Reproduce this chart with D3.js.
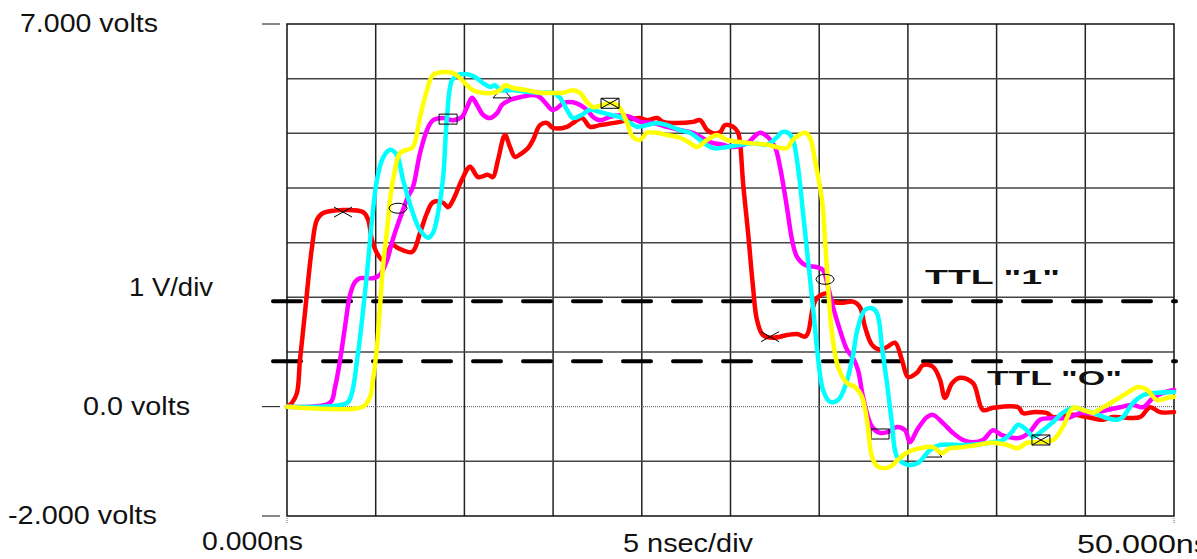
<!DOCTYPE html>
<html>
<head>
<meta charset="utf-8">
<script src="https://cdn.jsdelivr.net/npm/d3@7"></script>
<style>
  body { margin: 0; background: #fff; }
  svg { display: block; }
  text { font-family: "Liberation Sans", Arial, sans-serif; fill: #111; }
</style>
</head>
<body>
<div id="chart"></div>
<script>
// time in ns, value in volts
var redTrace = [[0,0],[0.28,0.07],[0.56,0.25],[0.73,0.85],[1.01,1.71],[1.41,2.92],[1.69,3.42],[2.03,3.54],[4.28,3.56],[4.57,3.42],[4.79,3.05],[5.07,2.81],[5.41,2.68],[5.92,2.96],[6.26,2.9],[7.05,2.83],[7.5,3.18],[7.89,3.54],[8.23,3.74],[8.79,3.73],[9.08,3.65],[9.36,3.78],[9.86,4.15],[10.32,4.39],[10.77,4.2],[11.33,4.24],[11.61,4.2],[11.89,4.51],[12.29,4.97],[12.57,4.75],[12.85,4.57],[13.25,4.64],[13.59,4.73],[13.87,4.88],[14.26,5.15],[14.66,5.19],[14.99,5.1],[15.78,5.12],[16.12,5.19],[16.63,5.28],[17.08,5.12],[17.64,5.15],[18.77,5.21],[19.9,5.28],[20.29,5.24],[20.86,5.28],[21.2,5.21],[21.76,5.19],[22.89,5.21],[23.28,5.24],[23.68,5.06],[24.01,5.0],[24.41,5.02],[24.69,5.15],[25.14,5.12],[25.42,5.02],[25.54,4.82],[25.71,4.09],[25.99,3.18],[26.27,2.19],[26.49,1.59],[26.83,1.31],[27.4,1.26],[28.19,1.31],[28.75,1.33],[29.2,1.28],[29.37,1.35],[29.65,1.82],[29.88,1.99],[30.44,2.07],[30.78,1.92],[31.34,1.9],[31.91,1.92],[32.3,1.82],[32.58,1.46],[32.98,1.13],[33.43,1.04],[33.82,1.09],[34.27,1.17],[34.67,0.85],[35.01,0.54],[35.51,0.62],[35.85,0.76],[36.41,0.73],[36.81,0.49],[37.09,0.16],[37.49,0.43],[37.94,0.53],[38.67,0.43],[39.23,-0.06],[39.8,-0.02],[41.21,-0.01],[41.49,-0.12],[42.05,-0.1],[42.84,-0.12],[43.18,-0.19],[44.31,-0.15],[45.1,-0.19],[46.0,-0.24],[46.56,-0.19],[48.08,-0.19],[48.65,-0.01],[49.21,-0.1],[50,-0.1]];

var magentaTrace = [[0,0],[2.42,0.07],[2.71,0.36],[2.99,0.85],[3.27,1.46],[3.55,2.04],[3.83,2.28],[4.12,2.35],[4.85,2.35],[5.24,2.41],[5.64,2.68],[5.92,3.01],[6.2,3.29],[6.54,3.6],[6.82,3.84],[7.1,4.02],[7.5,4.64],[7.89,5.06],[8.23,5.24],[8.79,5.28],[9.36,5.24],[9.86,5.3],[10.15,5.48],[10.43,5.65],[10.71,5.52],[11.05,5.34],[11.44,5.28],[11.84,5.37],[12.12,5.52],[12.57,5.61],[13.13,5.66],[13.87,5.7],[14.26,5.66],[14.66,5.52],[14.94,5.43],[15.22,5.46],[15.56,5.55],[16.12,5.57],[16.52,5.52],[16.91,5.43],[17.25,5.3],[17.64,5.24],[18.21,5.3],[18.77,5.33],[19.34,5.3],[19.9,5.21],[20.63,5.19],[21.42,5.12],[22.15,5.06],[22.89,5.01],[23.84,4.84],[24.58,4.79],[25.14,4.75],[25.93,4.82],[26.66,5.01],[27.11,4.93],[27.51,4.75],[27.79,4.39],[28.18,3.65],[28.47,3.05],[28.75,2.74],[29.2,2.59],[29.88,2.55],[30.21,2.5],[30.5,2.19],[30.78,1.82],[31.17,1.4],[31.57,1.04],[31.91,0.89],[32.19,0.67],[32.47,0.18],[32.98,-0.37],[33.43,-0.48],[33.88,-0.46],[34.39,-0.37],[34.84,-0.43],[35.12,-0.65],[35.51,-0.43],[36.08,-0.19],[36.41,-0.15],[36.98,-0.3],[37.54,-0.48],[38.11,-0.61],[38.67,-0.65],[39.23,-0.61],[39.8,-0.43],[40.3,-0.52],[41.32,-0.57],[41.88,-0.46],[42.45,-0.24],[43.18,-0.21],[43.97,-0.21],[44.7,-0.12],[45.43,-0.12],[46.22,-0.06],[46.96,-0.01],[47.69,0.03],[48.25,-0.01],[48.82,0.16],[49.38,0.25],[50,0.31]];

var cyanTrace = [[0,0],[3.38,0.07],[3.66,0.25],[3.95,0.85],[4.23,1.58],[4.51,2.44],[4.79,3.41],[5.07,4.15],[5.41,4.55],[5.81,4.7],[6.2,4.6],[6.54,4.15],[7.1,3.54],[7.5,3.23],[7.95,3.09],[8.23,3.18],[8.51,3.54],[8.79,4.15],[9.02,5.3],[9.3,5.97],[9.64,6.07],[10.15,6.08],[10.6,6.03],[11.05,5.92],[11.44,5.85],[11.72,5.88],[12.01,5.79],[12.74,5.79],[13.53,5.76],[14.26,5.74],[14.99,5.74],[15.39,5.65],[15.78,5.43],[16.12,5.28],[16.63,5.34],[17.08,5.43],[17.64,5.39],[18.21,5.34],[18.77,5.3],[19.34,5.19],[19.73,5.12],[20.29,5.15],[20.86,5.19],[21.42,5.15],[22.15,5.06],[22.72,5.01],[23.28,4.88],[24.01,4.73],[24.8,4.75],[25.54,4.79],[26.27,4.82],[27.06,4.79],[27.62,4.93],[27.9,5.02],[28.24,5.01],[28.52,4.88],[28.8,4.39],[29.09,3.54],[29.37,2.68],[29.65,1.82],[29.93,0.91],[30.21,0.31],[30.61,0.09],[31.06,0.12],[31.45,0.36],[31.85,0.85],[32.19,1.46],[32.58,1.77],[32.98,1.8],[33.26,1.71],[33.54,1.09],[33.82,0.43],[34.1,-0.3],[34.39,-0.92],[34.95,-1.06],[35.57,-1.03],[36.25,-0.79],[36.81,-0.7],[38.33,-0.7],[39.8,-0.65],[40.36,-0.61],[40.87,-0.46],[41.21,-0.33],[41.71,-0.43],[42.05,-0.55],[42.62,-0.43],[43.18,-0.28],[43.74,-0.11],[44.31,-0.02],[44.87,-0.06],[45.43,-0.11],[46.22,-0.21],[46.79,-0.24],[47.12,-0.19],[47.69,0.07],[48.25,0.21],[48.82,0.25],[50,0.27]];

var yellowTrace = [[0,0],[4.28,0],[4.68,0.18],[4.85,0.49],[5.07,1.09],[5.24,1.82],[5.41,2.56],[5.64,3.23],[5.81,3.78],[5.98,4.15],[6.37,4.64],[6.77,4.7],[7.1,4.75],[7.5,5.3],[7.89,5.79],[8.23,6.07],[8.79,6.12],[9.36,6.1],[9.75,6.01],[10.15,5.88],[10.49,5.79],[11.05,5.74],[11.61,5.74],[12.01,5.79],[12.29,5.88],[12.74,5.83],[13.53,5.79],[14.26,5.74],[14.99,5.74],[15.56,5.74],[16.12,5.79],[16.52,5.74],[16.91,5.57],[17.25,5.48],[17.81,5.52],[18.38,5.55],[18.77,5.46],[19.17,5.19],[19.5,4.93],[19.9,4.88],[20.29,5.01],[20.86,5.01],[21.42,4.97],[22.15,4.92],[22.72,4.82],[23.11,4.75],[23.68,4.88],[24.24,4.97],[24.8,4.88],[25.54,4.84],[27.06,4.79],[28.18,4.73],[28.52,4.88],[29.2,5.01],[29.48,4.92],[29.76,4.51],[30.16,3.78],[30.33,3.05],[30.5,2.19],[30.72,1.35],[31.06,0.73],[31.57,0.43],[32.02,0.36],[32.41,0.18],[32.69,-0.24],[32.98,-0.92],[33.31,-1.1],[33.99,-1.1],[34.44,-0.97],[35.01,-0.83],[35.68,-0.76],[36.41,-0.74],[36.92,-0.85],[37.37,-0.76],[38.11,-0.74],[38.9,-0.7],[39.8,-0.66],[40.59,-0.7],[41.21,-0.76],[41.71,-0.66],[42.45,-0.65],[43.18,-0.61],[43.74,-0.37],[44.31,-0.02],[44.87,-0.06],[45.43,-0.11],[46.0,-0.01],[46.56,0.09],[47.35,0.25],[47.97,0.36],[48.48,0.31],[49.04,0.12],[49.61,0.16],[50,0.18]];

var traceColors = ["#ff0000", "#ff00ff", "#00ffff", "#ffff00"];

// marker symbols: [time, volts, symbol, index of the trace they are drawn with]
var markers = [[3.16,3.56,"x",0],[27.23,1.28,"x",0],[12.12,5.74,"tri",1],[36.41,-0.83,"tri",1],[9.08,5.26,"box",2],[33.43,-0.5,"box",2],[6.26,3.63,"o",3],[30.33,2.33,"o",3],[18.21,5.55,"xbox",3],[42.5,-0.61,"xbox",3]];

var ttlLevels = [1.93, 0.83];
var ttlLabels = ['TTL "1"', 'TTL "O"'];
var voltTicks = [7, 0, -2];
var voltLabels = ["7.000 volts", "0.0 volts", "-2.000 volts"];

var width = 1197, height = 559;

var x = d3.scaleLinear().domain([0, 50]).range([287, 1174]);
var y = d3.scaleLinear().domain([-2, 7]).range([516, 24]);

var svg = d3.select("#chart").append("svg")
    .attr("width", width)
    .attr("height", height);

// grid
svg.selectAll(".vgrid")
    .data(d3.range(5, 50, 5))
    .enter().append("line")
    .attr("x1", function(d) { return x(d); })
    .attr("x2", function(d) { return x(d); })
    .attr("y1", y(7))
    .attr("y2", y(-2))
    .attr("stroke", "#222")
    .attr("stroke-width", 1.5);

svg.selectAll(".hgrid")
    .data([6, 5, 4, 3, 2, 1, -1])
    .enter().append("line")
    .attr("x1", x(0))
    .attr("x2", x(50))
    .attr("y1", function(d) { return y(d); })
    .attr("y2", function(d) { return y(d); })
    .attr("stroke", "#444")
    .attr("stroke-width", 1.5);

// zero line is dotted
svg.append("line")
    .attr("x1", x(0)).attr("x2", x(50))
    .attr("y1", y(0)).attr("y2", y(0))
    .attr("stroke", "#555")
    .attr("stroke-width", 1)
    .attr("stroke-dasharray", "1,1");

svg.append("rect")
    .attr("x", x(0)).attr("y", y(7))
    .attr("width", x(50) - x(0))
    .attr("height", y(-2) - y(7))
    .attr("fill", "none")
    .attr("stroke", "#111")
    .attr("stroke-width", 1.5);

// left ticks
svg.selectAll(".ytick")
    .data(voltTicks)
    .enter().append("line")
    .attr("x1", 262).attr("x2", 280)
    .attr("y1", function(d) { return y(d); })
    .attr("y2", function(d) { return y(d); })
    .attr("stroke", "#111")
    .attr("stroke-width", 1);

// bottom ticks
svg.selectAll(".xtick")
    .data([0, 50])
    .enter().append("line")
    .attr("x1", function(d) { return x(d); })
    .attr("x2", function(d) { return x(d); })
    .attr("y1", y(-2) + 2).attr("y2", y(-2) + 8)
    .attr("stroke", "#666")
    .attr("stroke-width", 1)
    .attr("stroke-dasharray", "1,1");

// TTL threshold lines
svg.selectAll(".ttl")
    .data(ttlLevels)
    .enter().append("line")
    .attr("x1", x(0) - 14)
    .attr("x2", x(50) + 2)
    .attr("y1", function(d) { return y(d); })
    .attr("y2", function(d) { return y(d); })
    .attr("stroke", "#000")
    .attr("stroke-width", 4)
    .attr("stroke-linecap", "round")
    .attr("stroke-dasharray", "28,22");

// traces, each followed by its markers
var line = d3.line()
    .x(function(d) { return x(d[0]); })
    .y(function(d) { return y(d[1]); })
    .curve(d3.curveCatmullRom.alpha(0.5));

function markerPath(d) {
    var w = 9, h = 5;
    if (d[2] == "x") return "M" + -w + "," + -h + "L" + w + "," + h + "M" + -w + "," + h + "L" + w + "," + -h;
    if (d[2] == "o") return "M" + -w + ",0A" + w + "," + h + " 0 1,0 " + w + ",0A" + w + "," + h + " 0 1,0 " + -w + ",0";
    if (d[2] == "box") return "M" + -w + "," + -h + "H" + w + "V" + h + "H" + -w + "Z";
    if (d[2] == "tri") return "M" + -w + "," + h + "L" + w + "," + h + "L0," + -h + "Z";
    return "M" + -w + "," + -h + "H" + w + "V" + h + "H" + -w + "Z" +
        "M" + -w + "," + -h + "L" + w + "," + h + "M" + -w + "," + h + "L" + w + "," + -h;
}

var traces = [redTrace, magentaTrace, cyanTrace, yellowTrace];

traces.forEach(function(tr, i) {
    var g = svg.append("g");

    g.append("path")
        .datum(tr)
        .attr("d", line)
        .attr("fill", "none")
        .attr("stroke", traceColors[i])
        .attr("stroke-width", 4.5)
        .attr("stroke-linejoin", "round")
        .attr("stroke-linecap", "round");

    g.selectAll(".marker")
        .data(markers.filter(function(m) { return m[3] == i; }))
        .enter().append("path")
        .attr("transform", function(d) { return "translate(" + x(d[0]) + "," + y(d[1]) + ")"; })
        .attr("d", markerPath)
        .attr("fill", "none")
        .attr("stroke", "#000")
        .attr("stroke-width", 1);
});

// labels
svg.append("text").attr("x", 20).attr("y", 32).attr("font-size", 26)
    .attr("textLength", 138).attr("lengthAdjust", "spacingAndGlyphs").text(voltLabels[0]);
svg.append("text").attr("x", 129).attr("y", 296).attr("font-size", 26)
    .attr("textLength", 84).attr("lengthAdjust", "spacingAndGlyphs").text("1 V/div");
svg.append("text").attr("x", 83).attr("y", 415).attr("font-size", 26)
    .attr("textLength", 107).attr("lengthAdjust", "spacingAndGlyphs").text(voltLabels[1]);
svg.append("text").attr("x", 8).attr("y", 524).attr("font-size", 26)
    .attr("textLength", 149).attr("lengthAdjust", "spacingAndGlyphs").text(voltLabels[2]);

svg.append("text").attr("x", 202).attr("y", 550).attr("font-size", 26)
    .attr("textLength", 101).attr("lengthAdjust", "spacingAndGlyphs").text("0.000ns");
svg.append("text").attr("x", 623).attr("y", 552).attr("font-size", 26)
    .attr("textLength", 130).attr("lengthAdjust", "spacingAndGlyphs").text("5 nsec/div");
svg.append("text").attr("x", 1077).attr("y", 553).attr("font-size", 26)
    .attr("textLength", 133).attr("lengthAdjust", "spacingAndGlyphs").text("50.000ns");

svg.append("text").attr("x", 925).attr("y", 284).attr("font-size", 20)
    .attr("font-weight", "bold")
    .attr("textLength", 135).attr("lengthAdjust", "spacingAndGlyphs").text(ttlLabels[0]);
svg.append("text").attr("x", 987).attr("y", 385).attr("font-size", 20)
    .attr("font-weight", "bold")
    .attr("textLength", 135).attr("lengthAdjust", "spacingAndGlyphs").text(ttlLabels[1]);
</script>
</body>
</html>
